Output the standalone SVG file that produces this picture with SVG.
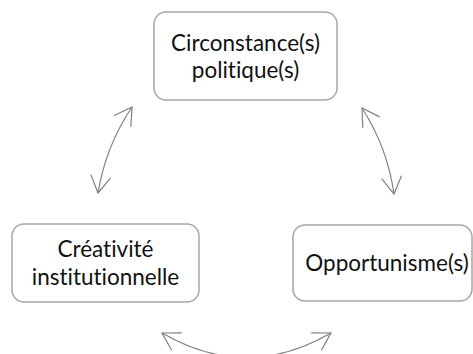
<svg xmlns="http://www.w3.org/2000/svg" width="473" height="354" viewBox="0 0 473 354">
<defs>
<style>
.box{fill:#ffffff;stroke:#a6a6a6;stroke-width:1.5}
.lbl{font-family:Lato,"Liberation Sans",sans-serif;font-size:22.5px;fill:#111111;text-anchor:middle;font-variant-ligatures:none}
.arc{fill:none;stroke:#808080;stroke-width:1.2;marker-start:url(#ah);marker-end:url(#ah)}
</style>
<marker id="ah" markerUnits="userSpaceOnUse" markerWidth="30" markerHeight="30" viewBox="-20 -15 25 30" refX="0" refY="0" orient="auto-start-reverse">
<path d="M-17,-10 L0,0 L-17,10" fill="none" stroke="#808080" stroke-width="1.2"/>
</marker>
</defs>
<rect width="473" height="354" fill="#ffffff"/>
<g id="connectors">
<path class="arc" d="M98,193 Q105.7,146.3 132,107"/>
<path class="arc" d="M362,108 Q387.4,147.5 394,194"/>
<path class="arc" d="M162,333 Q246.5,382 331,333"/>
</g>
<g id="node-circonstances">
<rect class="box" x="154" y="12" width="183" height="88" rx="12"/>
<text class="lbl" x="245.5" y="51">Circonstance(s)</text>
<text class="lbl" x="245.5" y="78">politique(s)</text>
</g>
<g id="node-creativite">
<rect class="box" x="12" y="224" width="187" height="78" rx="12"/>
<text class="lbl" x="105.5" y="257">Créativité</text>
<text class="lbl" x="105.5" y="285">institutionnelle</text>
</g>
<g id="node-opportunisme">
<rect class="box" x="293" y="225" width="179" height="76" rx="12"/>
<text class="lbl" x="387" y="271">Opportunisme(s)</text>
</g>
</svg>
